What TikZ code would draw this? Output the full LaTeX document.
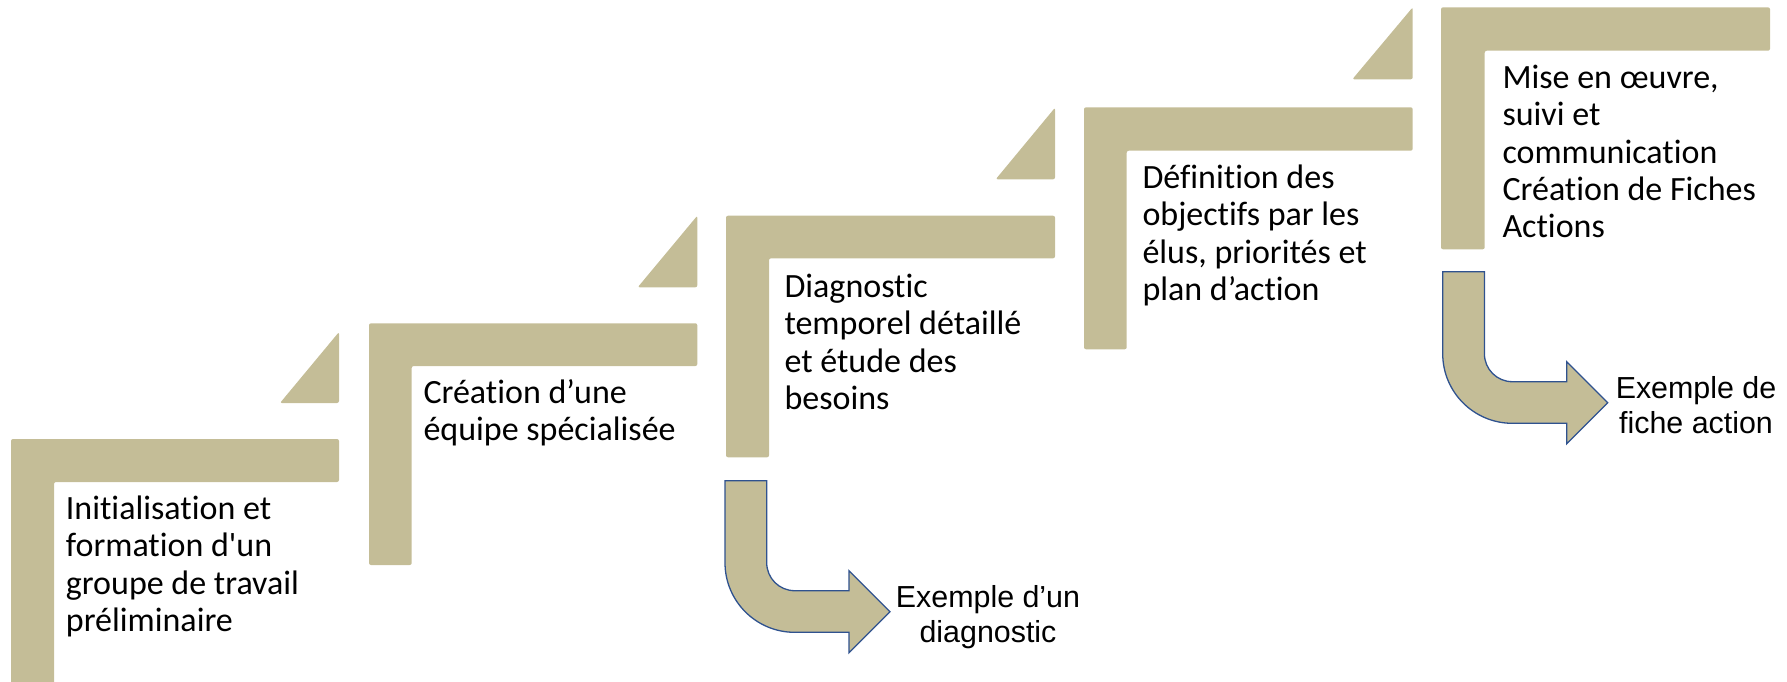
\documentclass[tikz,border=0pt]{standalone}
\usepackage{fontspec}
\setmainfont{Carlito}[Ligatures={TeXOff,NoCommon}]
\newfontfamily\arialf{Liberation Sans}[Ligatures=TeXOff]
\definecolor{tan}{HTML}{C4BD97}
\definecolor{arrowline}{HTML}{2F528F}
\tikzset{
  stepshape/.style={fill=tan, draw=none, rounded corners=2pt},
  bentarrow/.style={fill=tan, draw=arrowline, line width=1.3pt, line join=miter},
  steptext/.style={anchor=base west, inner sep=0pt, font=\fontsize{34}{37.4}\selectfont, text=black},
  arrowtext/.style={anchor=base, inner sep=0pt, font=\arialf\fontsize{30.4}{35.4}\selectfont, text=black}
}
\begin{document}
\begin{tikzpicture}[x=1pt,y=-1pt]
\useasboundingbox (0,0) rectangle (1787,681);
% step 1
\fill[stepshape] (11,439) -- (339,439) -- (339,482) -- (54,482) -- (54,684) -- (11,684) -- cycle;
\fill[stepshape] (280,403) -- (339,332) -- (339,403) -- cycle;
\node[steptext] (s1) at (65.7,519.3) {\begin{tabular}[t]{@{}l@{}}Initialisation et\\formation d'un\\groupe de travail\\préliminaire\end{tabular}};
% step 2
\fill[stepshape] (369,323.3) -- (697.3,323.3) -- (697.3,366) -- (411.7,366) -- (411.7,565) -- (369,565) -- cycle;
\fill[stepshape] (637.7,287.3) -- (697.3,215.7) -- (697.3,287.3) -- cycle;
\node[steptext] (s2) at (423.3,403.3) {\begin{tabular}[t]{@{}l@{}}Création d’une\\équipe spécialisée\end{tabular}};
% step 3
\fill[stepshape] (726,215.7) -- (1055,215.7) -- (1055,258.3) -- (769,258.3) -- (769,457.3) -- (726,457.3) -- cycle;
\fill[stepshape] (995.7,179.3) -- (1055,107.7) -- (1055,179.3) -- cycle;
\node[steptext] (s3) at (784.3,297.3) {\begin{tabular}[t]{@{}l@{}}Diagnostic\\temporel détaillé\\et étude des\\besoins\end{tabular}};
% step 4
\fill[stepshape] (1084,107.3) -- (1412.7,107.3) -- (1412.7,150.7) -- (1126.7,150.7) -- (1126.7,349.3) -- (1084,349.3) -- cycle;
\fill[stepshape] (1352.3,79.3) -- (1412.7,7.3) -- (1412.7,79.3) -- cycle;
\node[steptext] (s4) at (1142.3,188.3) {\begin{tabular}[t]{@{}l@{}}Définition des\\objectifs par les\\élus, priorités et\\plan d’action\end{tabular}};
% step 5
\fill[stepshape] (1441,7.3) -- (1770,7.3) -- (1770,50.7) -- (1484.7,50.7) -- (1484.7,249.3) -- (1441,249.3) -- cycle;
\node[steptext] (s5) at (1502.3,88.3) {\begin{tabular}[t]{@{}l@{}}Mise en œuvre,\\suivi et\\communication\\Création de Fiches\\Actions\end{tabular}};
% bent arrows
\foreach \ox/\oy in {725/480.7, 1442.7/271.7}{
  \begin{scope}[shift={(\ox,\oy)}]
    \draw[bentarrow] (0,0) -- (41.7,0) -- (41.7,82)
      .. controls (41.7,97.5) and (54.2,110) .. (69.7,110)
      -- (124,110) -- (124,90) -- (165,131) -- (124,172) -- (124,151.6) -- (69.7,151.6)
      .. controls (31.2,151.6) and (0,120.5) .. (0,82) -- cycle;
  \end{scope}
}
\node[arrowtext] (a1) at (988,607.3) {\begin{tabular}[t]{@{}c@{}}Exemple d’un\\diagnostic\end{tabular}};
\node[arrowtext] (a2) at (1696,398.3) {\begin{tabular}[t]{@{}c@{}}Exemple de\\fiche action\end{tabular}};
\end{tikzpicture}
\end{document}
